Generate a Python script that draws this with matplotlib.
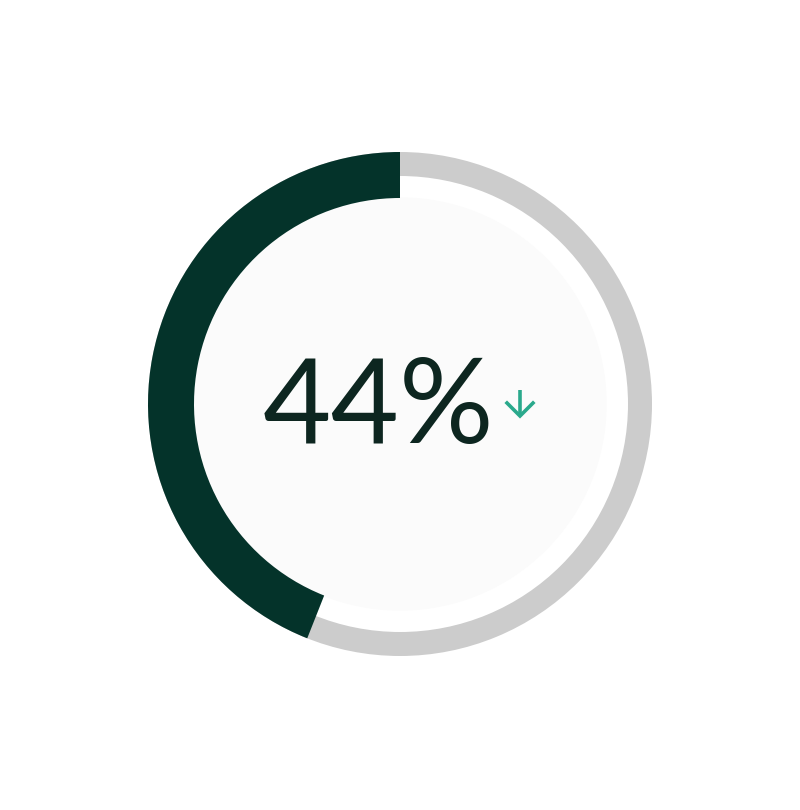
import matplotlib
matplotlib.use("Agg")
import matplotlib.pyplot as plt
from matplotlib.patches import Circle

# Datos del indicador
valor = 44
etiqueta = f"{valor}%"
tendencia = "baja"

color_valor = "#04332a"
color_fondo = "#cccccc"
color_texto = "#0d2620"
color_flecha = "#2aa98c"

fig = plt.figure(figsize=(8, 8.1), dpi=100)
ax = fig.add_axes([0, 0, 1, 1])
ax.set_xlim(0, 800)
ax.set_ylim(0, 810)
ax.set_aspect("equal")
ax.axis("off")

centro = (400, 406)
radio = 252

# Relleno interior (disco claro, separado del anillo)
ax.add_patch(Circle(centro, radio - 46, color="#fbfbfb", zorder=0))

# Anillo gris completo
ax.pie([100], radius=radio, center=centro, colors=[color_fondo],
       wedgeprops=dict(width=24, linewidth=0), startangle=90)

# Arco del valor
ax.pie([valor, 100 - valor], radius=radio, center=centro,
       colors=[color_valor, "none"], wedgeprops=dict(width=46, linewidth=0),
       startangle=90, counterclock=True)

ax.set_xlim(0, 800)
ax.set_ylim(0, 810)

# Texto central
ax.text(378, 400, etiqueta, ha="center", va="center",
        fontsize=85, color=color_texto, family=["Lato", "DejaVu Sans"])

# Flecha de tendencia
fx, fy = 520, centro[1]
if tendencia == "baja":
    ax.plot([fx, fx], [fy + 14, fy - 12], color=color_flecha, lw=2.6,
            solid_capstyle="butt")
    ax.plot([fx - 13, fx, fx + 13], [fy + 1, fy - 12, fy + 1],
            color=color_flecha, lw=2.6, solid_joinstyle="miter")

fig.savefig("out.png", dpi=100, facecolor="white")
